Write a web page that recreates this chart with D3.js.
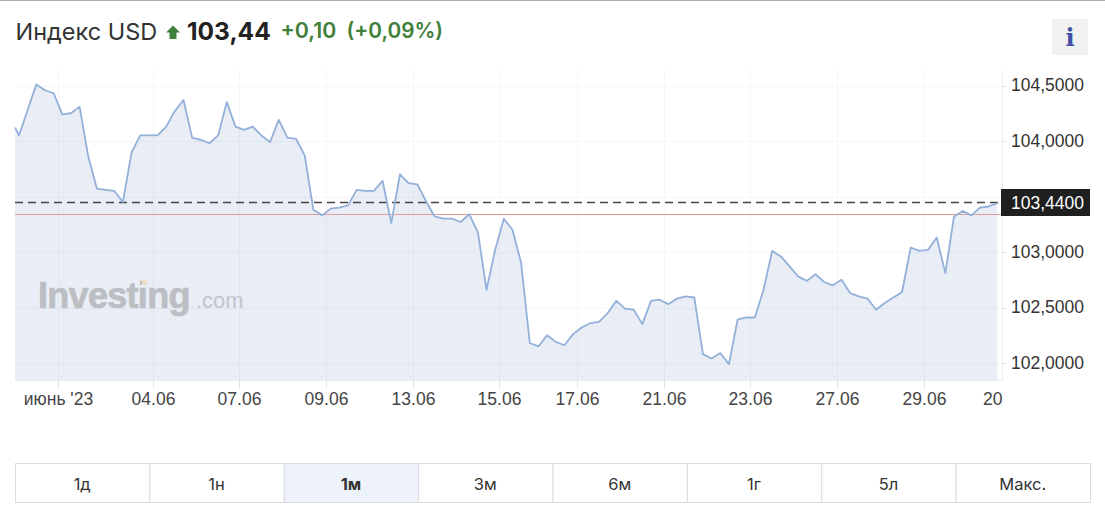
<!DOCTYPE html>
<html><head><meta charset="utf-8">
<script src="https://cdnjs.cloudflare.com/ajax/libs/d3/7.8.5/d3.min.js"></script>
<style>
html,body{margin:0;padding:0;background:#fff;overflow:hidden}
svg{display:block}
text{font-family:"Liberation Sans",Arial,sans-serif}
.inter{font-family:Inter,Roboto,sans-serif}
</style></head><body><svg id="c" width="1105" height="514"></svg>
<script>
const startValue = 104.12;
const values = [104.05,104.28,104.51,104.457,104.43,104.24,104.25,104.31,103.86,103.57,103.56,103.55,103.45,103.895,104.05,104.05,104.05,104.13,104.27,104.37,104.03,104.01,103.98,104.05,104.35,104.13,104.10,104.13,104.05,103.99,104.19,104.03,104.02,103.87,103.38,103.33,103.39,103.40,103.42,103.56,103.55,103.55,103.64,103.26,103.70,103.62,103.61,103.46,103.32,103.30,103.30,103.27,103.34,103.18,102.66,103.02,103.30,103.20,102.90,102.18,102.15,102.25,102.19,102.16,102.26,102.32,102.36,102.37,102.45,102.56,102.49,102.48,102.35,102.56,102.57,102.53,102.58,102.60,102.59,102.08,102.04,102.09,101.99,102.39,102.41,102.41,102.66,103.01,102.96,102.87,102.78,102.74,102.80,102.73,102.70,102.75,102.63,102.60,102.58,102.48,102.54,102.59,102.64,103.04,103.01,103.02,103.13,102.81,103.32,103.37,103.33,103.40,103.41,103.44];
const yTicks = [104.5,104,103.5,103,102.5,102];
const yLabels = ["104,5000","104,0000",null,"103,0000","102,5000","102,0000"];
const xTickPos = [4.45,15.5,25.45,35.5,45.55,55.5,64.5,74.5,84.45,94.5,104.5];
const xTickLabels = ["июнь '23","04.06","07.06","09.06","13.06","15.06","17.06","21.06","23.06","27.06","29.06"];
const lastValue = 103.44, prevClose = 103.34;
const ranges = ["1д","1н","1м","3м","6м","1г","5л","Макс."];
const activeRange = "1м";

const svg = d3.select("#c");
const L=15,R=1002,T=70,B=380;
const x = d3.scaleLinear().domain([0,113]).range([19,997.3]);
const y = d3.scaleLinear().domain([104.5,102]).range([85.5,363]);
const pts = [[-0.45,startValue]].concat(values.map((v,i)=>[i,v]));

svg.append("rect").attr("x",0).attr("y",0).attr("width",1105).attr("height",1).attr("fill","#ababab");

// header
const t = svg.append("g");
const tx=(px,py,fs,fw,fc,s)=>t.append("text").attr("class","inter").attr("x",px).attr("y",py).attr("font-size",fs).attr("font-weight",fw).attr("fill",fc).text(s);
tx(15.5,40,23.5,400,"#333","Индекс USD");
t.append("path").attr("d","M173 25.5 L180 32.5 L176.5 32.5 L176.5 39 L169.5 39 L169.5 32.5 L166 32.5 Z").attr("fill","#41803a");
tx(187,40,24.5,700,"#222","103,44");
tx(280.5,38,21.3,600,"#41803a","+0,10");
tx(346.5,38,20.8,600,"#41803a","(+0,09%)");
svg.append("rect").attr("x",1052).attr("y",19).attr("width",36).attr("height",36).attr("fill","#f1f1f1");
svg.append("text").attr("x",1070).attr("y",46).attr("text-anchor","middle").style("font-family","DejaVu Serif").attr("font-weight",700).attr("font-size",24).attr("fill","#3f51a5").text("i");

// grid
const grid = svg.append("g").attr("stroke","#f5f6f8").attr("stroke-width",1);
grid.selectAll("line.h").data(yTicks).join("line").attr("x1",L).attr("x2",R).attr("y1",d=>Math.round(y(d))+.5).attr("y2",d=>Math.round(y(d))+.5);
grid.selectAll("line.v").data(xTickPos).join("line").attr("x1",d=>Math.round(x(d))+.5).attr("x2",d=>Math.round(x(d))+.5).attr("y1",T).attr("y2",B);

// area
svg.append("path").datum(pts).attr("fill","#5b7fb9").attr("fill-opacity",.135)
 .attr("d",d3.area().x(d=>x(d[0])).y0(B).y1(d=>y(d[1])));

// watermark
const wm = svg.append("g");
wm.append("text").attr("x",38).attr("y",308).attr("font-size",36).attr("font-weight",700).attr("letter-spacing",-0.7).attr("fill","#bcbec3").attr("stroke","#bcbec3").attr("stroke-width",.7).text("Investing");
wm.append("rect").attr("x",142).attr("y",280).attr("width",5).attr("height",5).attr("fill","#ecdfc8");
wm.append("text").attr("x",196).attr("y",308).attr("font-size",22).attr("fill","#c2c4ca").text(".com");

// axes lines
svg.append("line").attr("x1",L).attr("x2",R).attr("y1",380.5).attr("y2",380.5).attr("stroke","#e9ebf2");
svg.append("line").attr("x1",1002.5).attr("x2",1002.5).attr("y1",T).attr("y2",B+1).attr("stroke","#e9ebf2");

// reference lines
svg.append("line").attr("x1",L).attr("x2",R).attr("y1",Math.round(y(prevClose))+.5).attr("y2",Math.round(y(prevClose))+.5).attr("stroke","#e29b9b");
svg.append("line").attr("x1",L).attr("x2",R).attr("y1",202.5).attr("y2",202.5).attr("stroke","#444").attr("stroke-width",1.3).attr("stroke-dasharray","8 5");

// line
svg.append("path").datum(pts).attr("fill","none").attr("stroke","#93b0d9").attr("stroke-width",1.8)
 .attr("stroke-linejoin","round").attr("d",d3.line().x(d=>x(d[0])).y(d=>y(d[1])));

// y axis labels
const yg = svg.append("g");
yTicks.forEach((d,i)=>{
 yg.append("line").attr("x1",1003).attr("x2",1007).attr("y1",Math.round(y(d))+.5).attr("y2",Math.round(y(d))+.5).attr("stroke","#dfe1e8");
 if(yLabels[i]) yg.append("text").attr("x",1011).attr("y",y(d)+5.5).attr("font-size",17.5).attr("fill","#333").text(yLabels[i]);
});
svg.append("rect").attr("x",1001).attr("y",189).attr("width",89).attr("height",27).attr("fill","#1f1f1f");
svg.append("text").attr("x",1011).attr("y",y(lastValue)+6).attr("font-size",17.5).attr("fill","#fff").text("103,4400");

// x axis
const xg = svg.append("g");
xTickPos.forEach((d,i)=>{const px=Math.round(x(d))+.5;
 xg.append("line").attr("x1",px).attr("x2",px).attr("y1",381).attr("y2",388).attr("stroke","#dfe1e8");
 xg.append("text").attr("x",px).attr("y",405).attr("text-anchor","middle").attr("font-size",17.5).attr("fill","#444").text(xTickLabels[i]);
});
xg.append("text").attr("x",983).attr("y",405).attr("font-size",17.5).attr("fill","#444").text("20");

// range buttons
const bx = d3.scaleBand().domain(ranges).range([15,1090]);
const bg = svg.append("g");
bg.selectAll("rect").data(ranges).join("rect").attr("x",d=>bx(d)+.5).attr("y",463.5).attr("width",bx.bandwidth()).attr("height",39)
 .attr("fill",d=>d===activeRange?"#eef3fb":"#fff").attr("stroke","#dcdcdc");
bg.selectAll("text").data(ranges).join("text").attr("class","inter").attr("x",d=>bx(d)+bx.bandwidth()/2).attr("y",490).attr("text-anchor","middle")
 .attr("font-size",16.5).attr("font-weight",d=>d===activeRange?700:400).attr("fill","#333").text(d=>d);
</script></body></html>
